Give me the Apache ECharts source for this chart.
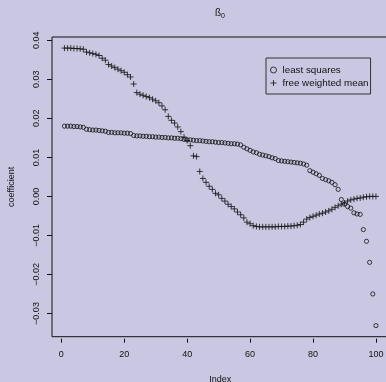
<!DOCTYPE html>
<html>
<head>
<meta charset="utf-8">
<script src="https://cdn.jsdelivr.net/npm/echarts@6/dist/echarts.min.js"></script>
<style>
  html, body { margin: 0; padding: 0; background: #c9c7e2; }
  #chart { width: 386px; height: 382px; }
</style>
</head>
<body>
<div id="chart"></div>
<script>
// Coefficient estimates per index for the two estimators
const leastSquares = [
  0.0180, 0.0180, 0.0180, 0.0179, 0.0179, 0.0178, 0.0177,
  0.0172, 0.0171, 0.0170, 0.0170, 0.0169, 0.0168, 0.0167,
  0.0164, 0.0164, 0.0163, 0.0163, 0.0163, 0.0162, 0.0162, 0.0161,
  0.0156, 0.0155, 0.0155, 0.0154, 0.0154, 0.0153, 0.0153, 0.0152, 0.0152, 0.0151, 0.0151, 0.0150, 0.0150, 0.0149, 0.0149, 0.0148,
  0.0146, 0.0145, 0.0145, 0.0144, 0.0143, 0.0143, 0.0142, 0.0141, 0.0140, 0.0140, 0.0139, 0.0138, 0.0138, 0.0137, 0.0136, 0.0135, 0.0135, 0.0134, 0.0132,
  0.0126, 0.0122, 0.0118, 0.0114, 0.0112,
  0.0108, 0.0106, 0.0104, 0.0102, 0.0099, 0.0097,
  0.0092, 0.0091, 0.0090, 0.0089, 0.0088, 0.0087, 0.0086, 0.0085, 0.0083, 0.0080,
  0.0066, 0.0062, 0.0058, 0.0054,
  0.0046, 0.0043, 0.0040, 0.0036, 0.0030,
  0.0018, -0.0008, -0.0020, -0.0026, -0.0030, -0.0042, -0.0045, -0.0046,
  -0.0085, -0.0115, -0.0169, -0.0250, -0.0331
];

const freeWeightedMean = [
  0.0380, 0.0380, 0.0380, 0.0379, 0.0379, 0.0378, 0.0377,
  0.0370, 0.0368, 0.0366, 0.0364, 0.0361,
  0.0354, 0.0349,
  0.0338, 0.0334, 0.0330, 0.0326, 0.0322, 0.0318, 0.0312, 0.0306,
  0.0288,
  0.0266, 0.0262, 0.0259, 0.0256, 0.0253, 0.0249, 0.0245, 0.0240, 0.0232, 0.0222,
  0.0205, 0.0195, 0.0188, 0.0178, 0.0166,
  0.0152, 0.0143, 0.0130, 0.0104, 0.0102,
  0.0064, 0.0046, 0.0036, 0.0026, 0.0018, 0.0008, 0.0004,
  -0.0005, -0.0012, -0.0020, -0.0026, -0.0032, -0.0040, -0.0047, -0.0055, -0.0066, -0.0070, -0.0075,
  -0.0077, -0.0078, -0.0078, -0.0078, -0.0078, -0.0078, -0.0078, -0.0077, -0.0077, -0.0077, -0.0076, -0.0076, -0.0075, -0.0074, -0.0072,
  -0.0066, -0.0058, -0.0054, -0.0051, -0.0048, -0.0045, -0.0043, -0.0040, -0.0037, -0.0033, -0.0028,
  -0.0024, -0.0020, -0.0017, -0.0012, -0.0009, -0.0007, -0.0005, -0.0004, -0.0002, -0.0001, 0.0000, 0.0000, 0.0000
];

const seriesNames = ['least squares', 'free weighted mean'];
const xTicks = [0, 20, 40, 60, 80, 100];
const yTicks = [-0.03, -0.02, -0.01, 0.00, 0.01, 0.02, 0.03, 0.04];

// Axis ranges padded by 4% of the data range on each side
const xMinData = 1, xMaxData = leastSquares.length;
const allVals = leastSquares.concat(freeWeightedMean);
const yMinData = Math.min.apply(null, allVals);
const yMaxData = Math.max.apply(null, allVals);
const xPad = (xMaxData - xMinData) * 0.04;
const yPad = (yMaxData - yMinData) * 0.04;

const toPoints = vals => vals.map((v, i) => [i + 1, v]);

const PLUS = 'path://M0,5L10,5M5,0L5,10';
const FONT = 'Liberation Sans, Arial, Helvetica, sans-serif';
const INK = '#111';

const fmtY = v => {
  const s = Math.abs(v).toFixed(2);
  return (v < -1e-9 ? '\u2212' : '') + s;
};

const chart = echarts.init(document.getElementById('chart'), null, { renderer: 'canvas' });

chart.setOption({
  backgroundColor: '#c9c7e2',
  animation: false,
  textStyle: { fontFamily: FONT },
  title: {
    text: '{b|\u00df}{s|0}',
    left: 210,
    top: 2,
    textStyle: {
      fontWeight: 'normal',
      rich: {
        b: { fontSize: 10, color: INK, fontFamily: FONT, fontWeight: 'normal' },
        s: { fontSize: 7, color: INK, fontFamily: FONT, fontWeight: 'normal', padding: [6, 0, 0, 0] }
      }
    }
  },
  grid: {
    left: 52,
    top: 37,
    width: 336.4,
    height: 299.7,
    outerBoundsMode: 'none',
    containLabel: false,
    show: true,
    borderColor: INK,
    borderWidth: 1,
    backgroundColor: 'transparent'
  },
  legend: {
    orient: 'vertical',
    left: 266,
    top: 58,
    padding: [7, 2, 6, 4],
    itemGap: 3,
    itemWidth: 6,
    itemHeight: 6,
    borderColor: '#333',
    borderWidth: 1,
    textStyle: { fontSize: 9.8, color: INK, fontFamily: FONT, padding: [0, 0, 0, 1] },
    data: [
      { name: seriesNames[0], icon: 'circle',
        itemStyle: { color: 'transparent', borderColor: INK, borderWidth: 1 } },
      { name: seriesNames[1], icon: PLUS,
        itemStyle: { color: 'transparent', borderColor: INK, borderWidth: 1 } }
    ]
  },
  xAxis: {
    type: 'value',
    min: xMinData - xPad,
    max: xMaxData + xPad,
    offset: 2,
    name: 'Index',
    nameLocation: 'middle',
    nameGap: 36,
    nameTextStyle: { fontSize: 9, color: INK, fontFamily: FONT },
    axisLine: { show: false, onZero: false },
    splitLine: { show: false },
    axisTick: { show: true, interval: 0, length: 4, customValues: xTicks,
                lineStyle: { color: INK, width: 1 } },
    axisLabel: { customValues: xTicks, interval: 0, fontSize: 9, color: INK, margin: 11, fontFamily: FONT }
  },
  yAxis: {
    type: 'value',
    min: yMinData - yPad,
    max: yMaxData + yPad,
    name: 'coefficient',
    nameLocation: 'middle',
    nameRotate: 90,
    nameGap: 36,
    nameTextStyle: { fontSize: 9, color: INK, fontFamily: FONT },
    axisLine: { show: false, onZero: false },
    splitLine: { show: false },
    axisTick: { show: true, interval: 0, length: 5, customValues: yTicks, lineStyle: { color: INK } },
    axisLabel: { customValues: yTicks, interval: 0, rotate: 90, fontSize: 9, color: INK, margin: 11,
                 fontFamily: FONT, formatter: fmtY }
  },
  series: [
    {
      name: seriesNames[0],
      type: 'scatter',
      symbol: 'circle',
      symbolSize: 4.2,
      data: toPoints(leastSquares),
      itemStyle: { color: 'transparent', borderColor: INK, borderWidth: 1 },
      emphasis: { disabled: true }
    },
    {
      name: seriesNames[1],
      type: 'scatter',
      symbol: PLUS,
      symbolSize: 6,
      data: toPoints(freeWeightedMean),
      itemStyle: { color: 'transparent', borderColor: INK, borderWidth: 1 },
      emphasis: { disabled: true }
    }
  ]
});
</script>
</body>
</html>
